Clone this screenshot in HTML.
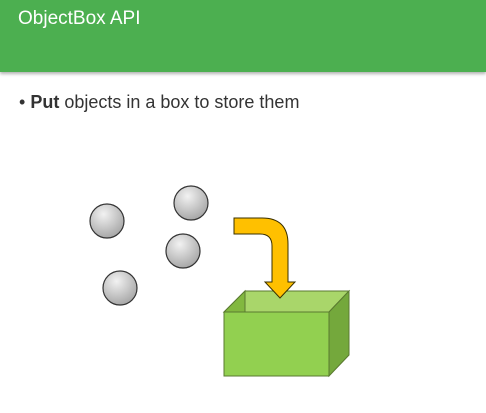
<!DOCTYPE html>
<html><head><style>
body{margin:0;width:486px;height:413px;background:#fff;overflow:hidden;position:relative;font-family:"Liberation Sans",sans-serif}
.h{position:absolute;left:0;top:0;width:486px;height:72px;background:#4caf50;box-shadow:0 2px 3px rgba(0,0,0,.3)}
.t{position:absolute;left:18px;top:8px;color:#fff;font-size:19px}
.b{position:absolute;left:19px;top:92px;font-size:18px;color:#333}
</style></head><body>
<div class="h"></div><div class="t">ObjectBox API</div>
<div class="b">• <b>Put</b> objects in a box to store them</div>
<svg width="486" height="413" style="position:absolute;left:0;top:0">
<defs><radialGradient id="g" cx="40%" cy="30%" r="70%"><stop offset="0" stop-color="#f2f2f2"/><stop offset="1" stop-color="#a8a8a8"/></radialGradient></defs>
<g fill="url(#g)" stroke="#333" stroke-width="1.2">
<circle cx="107" cy="221" r="17"/><circle cx="191" cy="203" r="17"/><circle cx="183" cy="251" r="17"/><circle cx="120" cy="288" r="17"/></g>
<g stroke="#5a7a30" stroke-width="1">
<polygon points="245,291 349,291 329,312 224,312" fill="#a9d66a"/>
<polygon points="224,312 245,291 245,312" fill="#82b83f"/>
<rect x="224" y="312" width="105" height="64" fill="#92d050"/>
<polygon points="329,312 349,291 349,355 329,376" fill="#74a83c"/>
</g>
<path d="M234 218 H262 Q288 218 288 244 V282 H295 L280 298 L265 282 H272 V246 Q272 234 260 234 H234 Z" fill="#ffc000" stroke="#3a3000" stroke-width="1"/>
</svg>
</body></html>
